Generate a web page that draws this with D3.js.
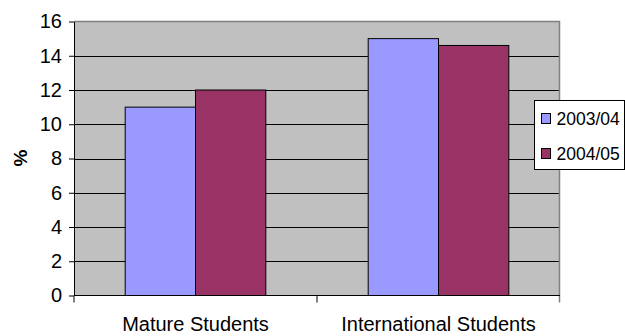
<!DOCTYPE html>
<html>
<head>
<meta charset="utf-8">
<script src="https://cdn.jsdelivr.net/npm/d3@7"></script>
<style>
  html, body { margin: 0; padding: 0; background: #ffffff; }
  svg { display: block; font-family: "Liberation Sans", Arial, sans-serif; }
</style>
</head>
<body>
<svg id="chart" width="625" height="336"></svg>
<script>
// Student groups along the x axis
const categories = ["Mature Students", "International Students"];
// Academic years shown as paired bars
const seriesNames = ["2003/04", "2004/05"];
// Percentages per year, one value per category
const values2003 = [11.0, 15.0];
const values2004 = [12.0, 14.6];
// Y axis ticks
const yTicks = [0, 2, 4, 6, 8, 10, 12, 14, 16];
const seriesColors = ["#9999FF", "#993366"];

const seriesValues = [values2003, values2004];

const svg = d3.select("#chart");
const plot = { left: 74, right: 560, top: 21.5, bottom: 295.5 };

const y = d3.scaleLinear().domain([0, 16]).range([plot.bottom, plot.top]);
const x0 = d3.scaleBand().domain(categories).range([plot.left, plot.right]).padding(0);
const x1 = d3.scaleBand().domain(seriesNames).range([0, x0.bandwidth()])
  .paddingInner(0).paddingOuter(0.728);

// Plot area background
svg.append("rect")
  .attr("x", plot.left).attr("y", plot.top)
  .attr("width", plot.right - plot.left).attr("height", plot.bottom - plot.top)
  .attr("fill", "#C0C0C0");

// Horizontal gridlines
svg.append("g").selectAll("line")
  .data(yTicks.filter(t => t > 0 && t < 16))
  .join("line")
  .attr("x1", plot.left).attr("x2", plot.right)
  .attr("y1", d => Math.round(y(d)) + 0.5).attr("y2", d => Math.round(y(d)) + 0.5)
  .attr("stroke", "#000").attr("stroke-width", 1);

// Grey frame on top and right
svg.append("path")
  .attr("d", `M${plot.left},${plot.top}H${plot.right - 0.5}V${plot.bottom + 7}`)
  .attr("fill", "none").attr("stroke", "#808080").attr("stroke-width", 1.5);

// Bars
const groups = svg.append("g").selectAll("g")
  .data(categories)
  .join("g")
  .attr("transform", d => `translate(${x0(d)},0)`);

groups.selectAll("rect")
  .data((c, ci) => seriesNames.map((s, si) => ({ s, si, v: seriesValues[si][ci] })))
  .join("rect")
  .attr("x", d => x1(d.s))
  .attr("y", d => y(d.v))
  .attr("width", x1.bandwidth())
  .attr("height", d => y(0) - y(d.v))
  .attr("fill", d => seriesColors[d.si])
  .attr("stroke", "#000").attr("stroke-width", 1);

// Y axis
const yAxis = svg.append("g")
  .attr("transform", `translate(${plot.left},0)`)
  .call(d3.axisLeft(y).tickValues(yTicks).tickSize(5).tickPadding(7).tickSizeOuter(0));
yAxis.select(".domain").attr("stroke", "#000");
yAxis.selectAll(".tick line").attr("stroke", "#000");
yAxis.selectAll(".tick text")
  .attr("font-size", "20px").attr("fill", "#000")
  .attr("font-family", "Liberation Sans, Arial, sans-serif");

// X axis line and category boundary ticks
svg.append("line")
  .attr("x1", plot.left).attr("x2", plot.right)
  .attr("y1", plot.bottom).attr("y2", plot.bottom)
  .attr("stroke", "#000").attr("stroke-width", 1.2);
const bounds = categories.map(c => x0(c)).concat([plot.right]);
svg.append("g").selectAll("line")
  .data(bounds.slice(0, -1))
  .join("line")
  .attr("x1", d => d).attr("x2", d => d)
  .attr("y1", plot.bottom).attr("y2", plot.bottom + 7)
  .attr("stroke", "#000");

// Category labels
svg.append("g").selectAll("text")
  .data(categories)
  .join("text")
  .attr("x", d => x0(d) + x0.bandwidth() / 2)
  .attr("y", 331)
  .attr("text-anchor", "middle")
  .attr("font-size", "20px")
  .attr("fill", "#000")
  .text(d => d);

// Y axis title
svg.append("text")
  .attr("transform", "translate(27,158) rotate(-90)")
  .attr("text-anchor", "middle")
  .attr("font-size", "19px")
  .attr("font-weight", "bold")
  .attr("fill", "#000")
  .text("%");

// Legend
const legend = svg.append("g").attr("transform", "translate(534.5,100.5)");
legend.append("rect")
  .attr("width", 90).attr("height", 69)
  .attr("fill", "#fff").attr("stroke", "#000").attr("stroke-width", 1);
const items = legend.selectAll("g.item")
  .data(seriesNames)
  .join("g")
  .attr("class", "item")
  .attr("transform", (d, i) => `translate(7,${13 + i * 35})`);
items.append("rect")
  .attr("width", 9).attr("height", 10)
  .attr("fill", (d, i) => seriesColors[i])
  .attr("stroke", "#000").attr("stroke-width", 1);
items.append("text")
  .attr("x", 15).attr("y", 11.5)
  .attr("font-size", "17.5px")
  .attr("fill", "#000")
  .text(d => d);
</script>
</body>
</html>
